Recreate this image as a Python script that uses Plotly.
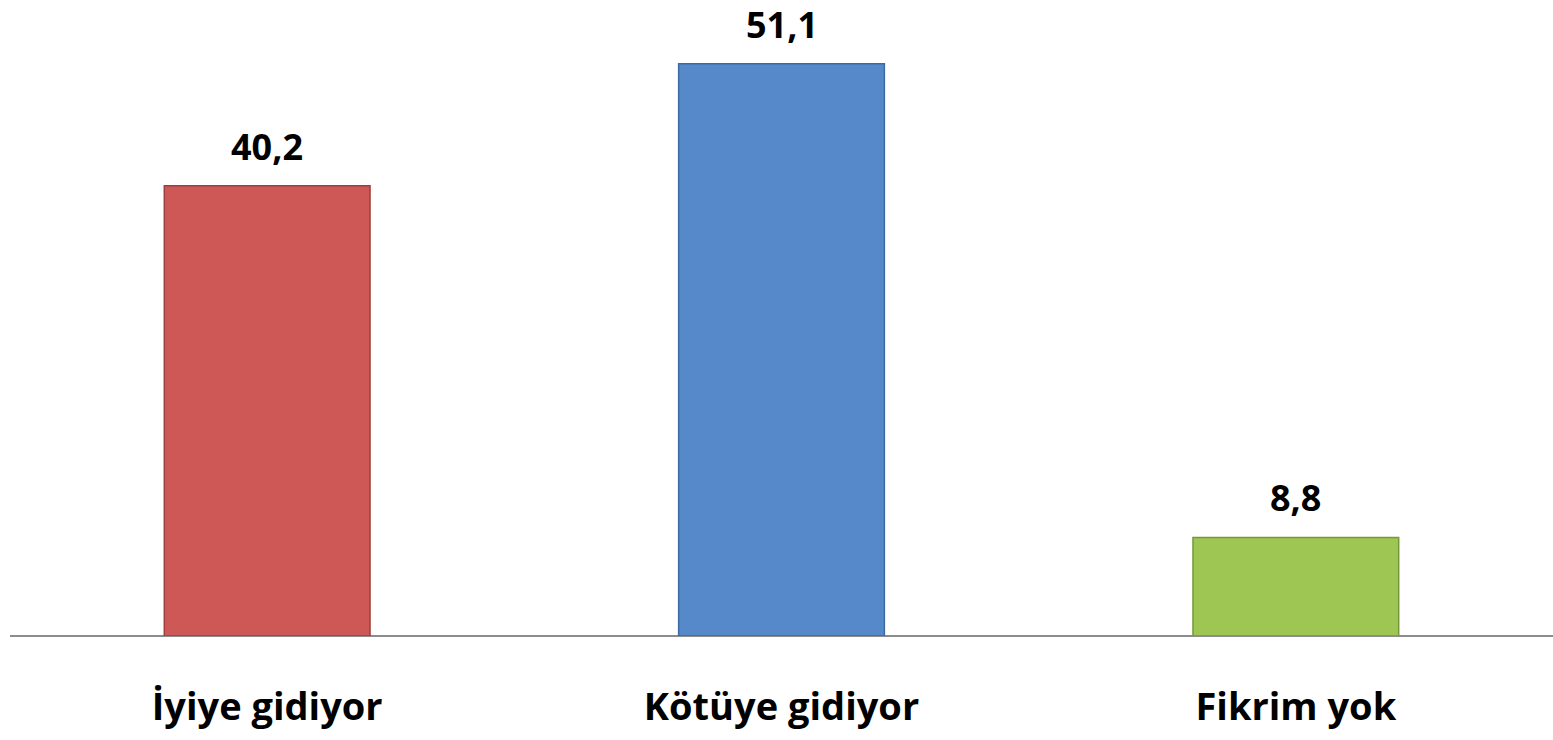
import plotly.graph_objects as go

categories = ["İyiye gidiyor", "Kötüye gidiyor", "Fikrim yok"]
values = [40.2, 51.1, 8.8]
value_labels = ["40,2", "51,1", "8,8"]
bar_colors = ["#CD5856", "#5589CA", "#9DC653"]
edge_colors = ["#9E3F3D", "#3D6AA3", "#75993A"]

FONT = "Open Sans"

fig = go.Figure()
fig.add_trace(go.Bar(
    x=categories,
    y=values,
    marker=dict(color=bar_colors, line=dict(color=edge_colors, width=1.5)),
    width=0.4,
    hoverinfo="skip",
))

for c, v, t in zip(categories, values, value_labels):
    fig.add_annotation(
        x=c, y=v, text=f"<b>{t}</b>", showarrow=False,
        yanchor="bottom", yshift=13,
        font=dict(family=FONT, size=36, color="#000000"),
    )

fig.update_layout(
    width=1553, height=740,
    margin=dict(l=10, r=0, t=20, b=104),
    paper_bgcolor="white", plot_bgcolor="white",
    showlegend=False,
    bargap=0.6,
    xaxis=dict(
        showgrid=False, zeroline=False, showline=False,
        ticks="", ticklabelstandoff=45,
        tickfont=dict(family=FONT, size=38, color="#000000", weight="bold"),
    ),
    yaxis=dict(
        range=[0, 55], showgrid=False, zeroline=True,
        zerolinecolor="#8C8C8C", zerolinewidth=1.5,
        showticklabels=False, showline=False, ticks="",
    ),
)

fig.write_html(
    "out.html",
    config={"displayModeBar": False},
    post_script="document.body.style.margin='0';document.body.style.overflow='hidden';",
)
